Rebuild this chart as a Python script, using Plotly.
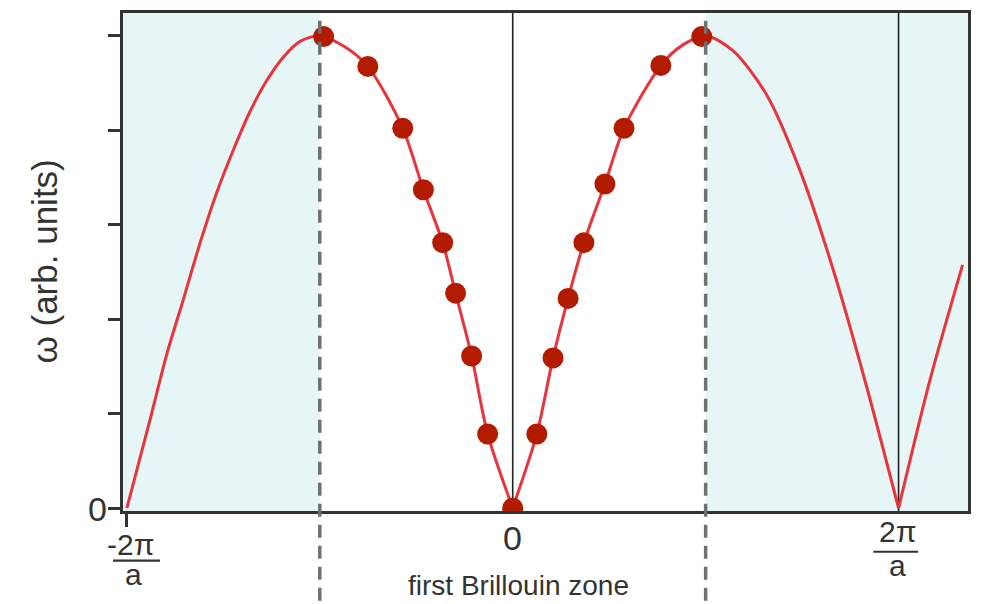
import plotly.graph_objects as go

# Wave vector k in units of pi/a, frequency omega in arbitrary units
# Dispersion branch, drawn as three arches (cusps at k = 0 and k = 2)
arch1_k = [-2.0, -1.878, -1.793, -1.707, -1.62, -1.534, -1.448, -1.361, -1.275,
           -1.188, -1.102, -1.0, -0.877, -0.751, -0.570, -0.463, -0.363, -0.296,
           -0.213, -0.130, 0.0]
arch1_w = [0.0, 0.19, 0.326, 0.442, 0.562, 0.668, 0.758, 0.84, 0.905,
           0.955, 0.988, 1.0, 0.978, 0.935, 0.804, 0.674, 0.562, 0.455,
           0.322, 0.157, 0.0]

arch2_k = [0.0, 0.125, 0.209, 0.287, 0.369, 0.478, 0.577, 0.768, 0.88, 1.0,
           1.143, 1.316, 1.489, 1.661, 1.834, 2.0]
arch2_w = [0.0, 0.157, 0.318, 0.444, 0.562, 0.686, 0.804, 0.937, 0.98, 1.0,
           0.968, 0.875, 0.715, 0.505, 0.258, 0.0]

arch3_k = [2.0, 2.162, 2.332]
arch3_w = [0.0, 0.27, 0.515]

# Sampled modes inside the first Brillouin zone
dot_k = [-0.98, -0.751, -0.570, -0.463, -0.363, -0.296, -0.213, -0.130, 0.0,
         0.125, 0.209, 0.287, 0.369, 0.478, 0.577, 0.768, 0.98]
dot_w = [0.998, 0.935, 0.804, 0.674, 0.562, 0.455, 0.322, 0.157, 0.0,
         0.157, 0.318, 0.444, 0.562, 0.686, 0.804, 0.937, 0.998]

y_ticks = [0.0, 0.2, 0.4, 0.6, 0.8, 1.0]

X_RANGE = [-2.02, 2.36]
Y_RANGE = [-0.006, 1.048]
ZONE_EDGE = 1.0

FONT = "Liberation Sans, Arial, sans-serif"
TEXT = "#333333"
CURVE = "#e8343c"
DOT = "#b31b00"
SHADE = "#e6f5f5"

fig = go.Figure()

curve_k = arch1_k + [None] + arch2_k + [None] + arch3_k
curve_w = arch1_w + [None] + arch2_w + [None] + arch3_w
fig.add_trace(go.Scatter(
    x=curve_k, y=curve_w, mode="lines",
    line=dict(color=CURVE, width=3, shape="spline", smoothing=0.8),
    connectgaps=False, hoverinfo="skip", showlegend=False,
))
fig.add_trace(go.Scatter(
    x=dot_k, y=dot_w, mode="markers",
    marker=dict(color=DOT, size=21, line=dict(width=0)),
    showlegend=False,
))

shapes = [
    # regions outside the first Brillouin zone
    dict(type="rect", xref="x", yref="paper", x0=X_RANGE[0], x1=-ZONE_EDGE,
         y0=0, y1=1, fillcolor=SHADE, line=dict(width=0), layer="below"),
    dict(type="rect", xref="x", yref="paper", x0=ZONE_EDGE, x1=X_RANGE[1],
         y0=0, y1=1, fillcolor=SHADE, line=dict(width=0), layer="below"),
    # zone boundaries
    dict(type="line", xref="x", yref="paper", x0=-ZONE_EDGE, x1=-ZONE_EDGE,
         y0=-0.18, y1=1, line=dict(color="#707070", width=3.5, dash="13px,8px")),
    dict(type="line", xref="x", yref="paper", x0=ZONE_EDGE, x1=ZONE_EDGE,
         y0=-0.18, y1=1, line=dict(color="#707070", width=3.5, dash="13px,8px")),
    # k = 0 and k = 2pi/a
    dict(type="line", xref="x", yref="paper", x0=0, x1=0, y0=0, y1=1,
         line=dict(color="#222222", width=1.6), layer="below"),
    dict(type="line", xref="x", yref="paper", x0=2, x1=2, y0=0, y1=1,
         line=dict(color="#222222", width=1.6), layer="below"),
    # fraction bars of the tick labels
    dict(type="line", xref="paper", yref="paper", x0=-0.0118, x1=0.0438,
         y0=-0.0998, y1=-0.0998, line=dict(color=TEXT, width=2.2)),
    dict(type="line", xref="paper", yref="paper", x0=0.888, x1=0.941,
         y0=-0.0818, y1=-0.0818, line=dict(color=TEXT, width=2.2)),
]


def label(text, x, y, size, xref="paper", angle=0):
    return dict(text=text, xref=xref, yref="paper", x=x, y=y,
                xanchor="center", yanchor="middle", textangle=angle,
                showarrow=False, font=dict(size=size, color=TEXT))


annotations = [
    label("0", -0.0296, 0.004, 34),
    label("0", 0, -0.054, 34, xref="x"),
    label("-2π", 0.009, -0.068, 30),
    label("a", 0.012, -0.128, 30),
    label("2π", 0.916, -0.042, 30),
    label("a", 0.916, -0.11, 30),
    label("first Brillouin zone", 0.03, -0.15, 28, xref="x"),
    label("ω (arb. units)", -0.094, 0.5, 35, angle=-90),
]

fig.update_layout(
    width=983, height=604,
    margin=dict(l=123, r=15, t=10, b=93),
    paper_bgcolor="white", plot_bgcolor="white",
    font=dict(family=FONT, color=TEXT),
    shapes=shapes, annotations=annotations,
    showlegend=False,
)
fig.update_xaxes(
    range=X_RANGE, showgrid=False, zeroline=False,
    showline=True, mirror=True, linecolor=TEXT, linewidth=2.5,
    tickvals=[-2], showticklabels=False, ticks="outside", ticklen=13,
    tickwidth=2.5, tickcolor=TEXT,
)
fig.update_yaxes(
    range=Y_RANGE, showgrid=False, zeroline=False,
    showline=True, mirror=True, linecolor=TEXT, linewidth=2.5,
    tickvals=y_ticks, showticklabels=False, ticks="outside", ticklen=12,
    tickwidth=2.5, tickcolor=TEXT,
)

fig.write_html("out.html")
